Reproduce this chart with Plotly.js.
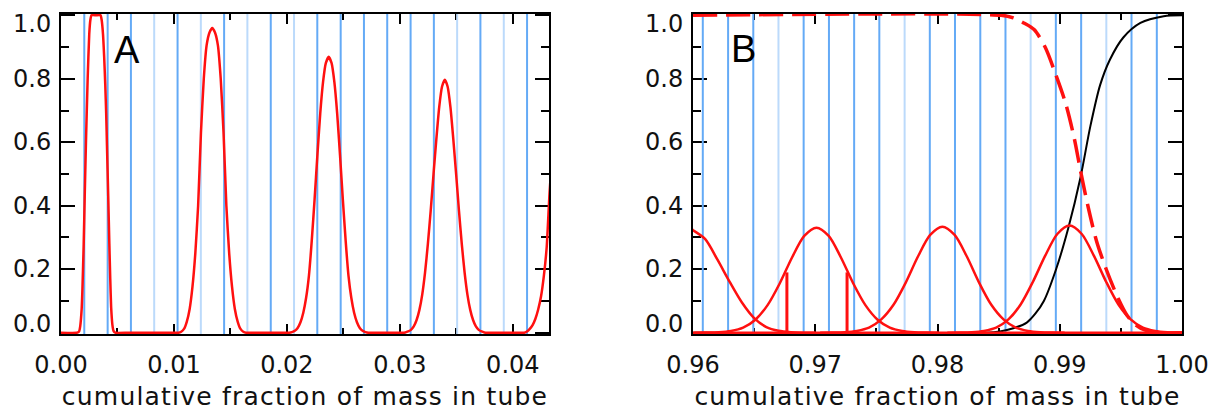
<!DOCTYPE html>
<html>
<head>
<meta charset="utf-8">
<script src="https://cdn.plot.ly/plotly-3.0.1.min.js"></script>
<style>
html,body{margin:0;padding:0;background:#fff;}
#chart{width:1216px;height:413px;}
.xtitle, .x2title { letter-spacing: 1.2px; }
</style>
</head>
<body>
<div id="chart"></div>
<script>
// ---------------- Data ----------------
// Panel A: shell boundaries (vertical blue lines)
var shellLinesA = [0.00206, 0.00413, 0.00619, 0.00825, 0.01032, 0.01238, 0.01444, 0.01650, 0.01857, 0.02063,
                   0.02269, 0.02476, 0.02682, 0.02888, 0.03095, 0.03301, 0.03507, 0.03713, 0.03920, 0.04126];
var shellLinesALight = [0.00825, 0.01238, 0.01650, 0.02063, 0.03507, 0.03920];

// Panel A: red curve (four full peaks and the start of a fifth)
var curveA_x = [0, 0.00140, 0.00160, 0.00170, 0.00183, 0.00190, 0.00201, 0.00210, 0.00221, 0.00236, 0.00250, 0.00260, 0.00270,
                0.00310, 0.00350, 0.00360, 0.00372, 0.00382, 0.00392, 0.00400, 0.00407, 0.00418, 0.00428, 0.00436, 0.00444,
                0.00455, 0.00465, 0.00480, 0.00600,
                0.00900, 0.01039, 0.01064, 0.01089, 0.01114, 0.01139, 0.01164, 0.01189, 0.01214, 0.01239, 0.01264, 0.01289,
                0.01314, 0.01339, 0.01364, 0.01389, 0.01414, 0.01439, 0.01464, 0.01489, 0.01514, 0.01539, 0.01564, 0.01589,
                0.01614, 0.01639, 0.01800,
                0.01900, 0.02020, 0.02045, 0.02070, 0.02095, 0.02120, 0.02145, 0.02170, 0.02195, 0.02220, 0.02245, 0.02270,
                0.02295, 0.02320, 0.02345, 0.02370, 0.02395, 0.02420, 0.02445, 0.02470, 0.02495, 0.02520, 0.02545, 0.02570,
                0.02595, 0.02620, 0.02645, 0.02670, 0.02695, 0.02720, 0.02850,
                0.02900, 0.03023, 0.03048, 0.03073, 0.03098, 0.03123, 0.03148, 0.03173, 0.03198, 0.03223, 0.03248, 0.03273,
                0.03298, 0.03323, 0.03348, 0.03373, 0.03398, 0.03423, 0.03448, 0.03473, 0.03498, 0.03523, 0.03548, 0.03573,
                0.03598, 0.03623, 0.03648, 0.03673, 0.03698, 0.03723, 0.03748, 0.03773, 0.03900,
                0.04000, 0.04100, 0.04125, 0.04150, 0.04175, 0.04200, 0.04225, 0.04250, 0.04275, 0.04300, 0.04325, 0.04350, 0.04375];
var curveA_y = [0, 0, 0.004, 0.02, 0.075, 0.14, 0.28, 0.43, 0.60, 0.80, 0.94, 0.985, 1.0,
                1.0, 1.0, 0.985, 0.94, 0.87, 0.78, 0.69, 0.59, 0.43, 0.28, 0.17, 0.08,
                0.025, 0.006, 0, 0,
                0, 0, 0.003, 0.012, 0.035, 0.075, 0.145, 0.25, 0.40, 0.63, 0.80, 0.905,
                0.945, 0.96, 0.945, 0.905, 0.80, 0.63, 0.40, 0.25, 0.145, 0.075, 0.035, 0.012,
                0.003, 0, 0,
                0, 0, 0.002, 0.006, 0.015, 0.033, 0.063, 0.11, 0.18, 0.29, 0.42, 0.56,
                0.69, 0.79, 0.85, 0.869, 0.85, 0.79, 0.69, 0.56, 0.42, 0.29, 0.18, 0.11,
                0.063, 0.033, 0.015, 0.006, 0.002, 0, 0,
                0, 0, 0.001, 0.004, 0.009, 0.020, 0.040, 0.072, 0.12, 0.19, 0.28, 0.385,
                0.50, 0.61, 0.71, 0.775, 0.797, 0.775, 0.71, 0.61, 0.50, 0.385, 0.28, 0.19,
                0.12, 0.072, 0.040, 0.020, 0.009, 0.004, 0.001, 0, 0,
                0, 0, 0.004, 0.012, 0.024, 0.044, 0.074, 0.115, 0.18, 0.27, 0.44, 0.57, 0.66];

// Panel B: shell boundaries
var shellLinesB = [0.96080, 0.96287, 0.96493, 0.96699, 0.96905, 0.97112, 0.97318, 0.97524, 0.97731, 0.97937,
                   0.98143, 0.98350, 0.98556, 0.98762, 0.98968, 0.99175, 0.99381, 0.99587, 0.99794];
var shellLinesBLight = [0.96699, 0.97731, 0.98762, 0.99381];

// Panel B: red bell curves
var bell0_x = [0.9590, 0.9597, 0.9600, 0.9610, 0.9620, 0.9630, 0.9640, 0.9650, 0.9660, 0.9670, 0.9680, 0.9690, 0.9700];
var bell0_y = [0.328, 0.331, 0.323, 0.295, 0.230, 0.160, 0.095, 0.046, 0.018, 0.006, 0.0015, 0, 0];

var bell1_x = [0.9601, 0.9611, 0.9621, 0.9631, 0.9641, 0.9651, 0.9661, 0.9671, 0.9681, 0.9691, 0.9701,
               0.9711, 0.9721, 0.9731, 0.9741, 0.9751, 0.9761, 0.9771, 0.9781, 0.9791, 0.9801];
var bell1_y = [0, 0.0004, 0.0016, 0.0056, 0.016, 0.041, 0.087, 0.156, 0.237, 0.305, 0.331,
               0.305, 0.237, 0.156, 0.087, 0.041, 0.016, 0.0056, 0.0016, 0.0004, 0];

var bell2_x = [0.9704, 0.9714, 0.9724, 0.9734, 0.9744, 0.9754, 0.9764, 0.9774, 0.9784, 0.9794, 0.9804,
               0.9814, 0.9824, 0.9834, 0.9844, 0.9854, 0.9864, 0.9874, 0.9884, 0.9894, 0.9904];
var bell2_y = [0, 0.0004, 0.0016, 0.0057, 0.016, 0.042, 0.088, 0.158, 0.240, 0.308, 0.334,
               0.308, 0.240, 0.158, 0.088, 0.042, 0.016, 0.0057, 0.0016, 0.0004, 0];

var bell3_x = [0.9808, 0.9818, 0.9828, 0.9838, 0.9848, 0.9858, 0.9868, 0.9878, 0.9888, 0.9898, 0.9908,
               0.9918, 0.9928, 0.9938, 0.9948, 0.9958, 0.9968, 0.9978, 0.9988, 0.9998, 1.0];
var bell3_y = [0, 0.0004, 0.0016, 0.0057, 0.016, 0.042, 0.089, 0.160, 0.242, 0.311, 0.3375,
               0.311, 0.242, 0.160, 0.089, 0.042, 0.016, 0.0057, 0.0016, 0.0004, 0];

// Panel B: vertical red markers (x position, top value)
var markerB_x = [0.96768, 0.97260];
var markerB_top = [0.19, 0.19];

// Panel B: black rising curve
var blackB_x = [0.9600, 0.9840, 0.9851, 0.9862, 0.9873, 0.9880, 0.9887, 0.9897, 0.9907, 0.9917, 0.9925,
                0.9933, 0.9941, 0.9952, 0.9966, 0.9985, 1.0000];
var blackB_y = [0, 0, 0.004, 0.014, 0.032, 0.060, 0.100, 0.200, 0.330, 0.490, 0.650,
                0.780, 0.860, 0.930, 0.976, 0.997, 1.0];

// Panel B: red dashed falling curve
var dashB_x = [0.9600, 0.9852, 0.9862, 0.9871, 0.9879, 0.9888, 0.9897, 0.9905, 0.9912, 0.9917, 0.9923,
               0.9930, 0.9938, 0.9948, 0.9955, 0.9962, 0.9970, 0.9980, 1.0000];
var dashB_y = [1.0, 1.0, 0.992, 0.975, 0.955, 0.900, 0.810, 0.720, 0.610, 0.510, 0.400,
               0.290, 0.200, 0.106, 0.055, 0.025, 0.008, 0, 0];

var yTicks = [0, 0.2, 0.4, 0.6, 0.8, 1.0];
var yTickLabels = ['0.0', '0.2', '0.4', '0.6', '0.8', '1.0'];
var xTicksA = [0, 0.01, 0.02, 0.03, 0.04];
var xTicksB = [0.96, 0.97, 0.98, 0.99, 1.00];
var xTitle = 'cumulative fraction of mass in tube';

// ---------------- Build traces ----------------
var BLUE = '#64aaf6', BLUE_LIGHT = '#bcdafb', RED = '#ff1010';

function vlines(xs, y0, y1) {
  var x = [], y = [];
  xs.forEach(function (v) { x.push(v, v, null); y.push(y0, y1, null); });
  return {x: x, y: y};
}
function vlinesTop(xs, tops) {
  var x = [], y = [];
  xs.forEach(function (v, i) { x.push(v, v, null); y.push(0, tops[i], null); });
  return {x: x, y: y};
}
function notIn(list, excl) {
  return list.filter(function (v) { return excl.indexOf(v) < 0; });
}

var traces = [];
function addV(xs, color, xa, ya) {
  var d = vlines(xs, -0.01, 1.01);
  traces.push({x: d.x, y: d.y, xaxis: xa, yaxis: ya, mode: 'lines', hoverinfo: 'skip',
               line: {color: color, width: 2}, showlegend: false});
}
addV(notIn(shellLinesA, shellLinesALight), BLUE, 'x', 'y');
addV(shellLinesALight, BLUE_LIGHT, 'x', 'y');
addV(notIn(shellLinesB, shellLinesBLight), BLUE, 'x2', 'y2');
addV(shellLinesBLight, BLUE_LIGHT, 'x2', 'y2');

traces.push({x: curveA_x, y: curveA_y, xaxis: 'x', yaxis: 'y', mode: 'lines',
             line: {color: RED, width: 2.5, shape: 'spline', smoothing: 0.5}, showlegend: false});

// black curve drawn below the red ones
traces.push({x: blackB_x, y: blackB_y, xaxis: 'x2', yaxis: 'y2', mode: 'lines',
             line: {color: '#000', width: 2, shape: 'spline', smoothing: 0.8}, showlegend: false});
traces.push({x: [0.96, 1.0], y: [0, 0], xaxis: 'x2', yaxis: 'y2', mode: 'lines',
             line: {color: RED, width: 2.5}, showlegend: false});
[[bell0_x, bell0_y], [bell1_x, bell1_y], [bell2_x, bell2_y], [bell3_x, bell3_y]].forEach(function (b) {
  traces.push({x: b[0], y: b[1], xaxis: 'x2', yaxis: 'y2', mode: 'lines',
               line: {color: RED, width: 2.5, shape: 'spline', smoothing: 0.8}, showlegend: false});
});
var mk = vlinesTop(markerB_x, markerB_top);
traces.push({x: mk.x, y: mk.y, xaxis: 'x2', yaxis: 'y2', mode: 'lines',
             line: {color: RED, width: 3}, showlegend: false});
traces.push({x: dashB_x, y: dashB_y, xaxis: 'x2', yaxis: 'y2', mode: 'lines',
             line: {color: RED, width: 3.5, dash: '24px,9px', shape: 'spline', smoothing: 0.8}, showlegend: false});

// ---------------- Layout ----------------
var tickFont = {family: 'DejaVu Sans', size: 24, color: '#111'};
var titleFont = {family: 'DejaVu Sans', size: 25, color: '#111'};
function xAxis(domain, range, ticks, anchor) {
  return {
    domain: domain, range: range, anchor: anchor,
    tickvals: ticks, ticktext: ticks.map(function (v) { return v.toFixed(2); }),
    ticks: 'inside', ticklen: 10, tickwidth: 2, tickcolor: '#000',
    minor: {dtick: 0.005, ticks: 'inside', ticklen: 6, tickwidth: 2, tickcolor: '#000'},
    showline: true, linecolor: '#000', linewidth: 2, mirror: 'ticks',
    showgrid: false, zeroline: false, layer: 'below traces',
    tickfont: tickFont, ticklabelstandoff: 8,
    title: {text: xTitle, font: titleFont, standoff: 10}
  };
}
function yAxis(anchor) {
  return {
    anchor: anchor, range: [-0.004, 1.004], autorange: false,
    tickvals: yTicks, showticklabels: false,
    ticks: 'inside', ticklen: 14, tickwidth: 2, tickcolor: '#000',
    minor: {dtick: 0.1, ticks: 'inside', ticklen: 8, tickwidth: 2, tickcolor: '#000'},
    showline: true, linecolor: '#000', linewidth: 2, mirror: 'ticks',
    showgrid: false, zeroline: false, layer: 'below traces'
  };
}

var annotations = [
  {text: 'A', xref: 'x', yref: 'y', x: 0.00584, y: 0.89, showarrow: false,
   font: {family: 'Liberation Sans', size: 38, color: '#000'}},
  {text: 'B', xref: 'x2', yref: 'y2', x: 0.96417, y: 0.894, showarrow: false,
   font: {family: 'Liberation Sans', size: 38, color: '#000'}}
];
// y tick labels (end labels nudged inward as in the reference)
[['x domain', 'y'], ['x2 domain', 'y2']].forEach(function (ax) {
  yTicks.forEach(function (v, i) {
    var shift = (i === 0) ? 9 : (i === yTicks.length - 1 ? -9 : 0);
    annotations.push({text: yTickLabels[i], xref: ax[0], yref: ax[1], x: 0, y: v,
      xanchor: 'right', yanchor: 'middle', xshift: -8, yshift: shift, showarrow: false,
      font: tickFont});
  });
});

var layout = {
  width: 1216, height: 413,
  margin: {l: 61, r: 34, t: 14, b: 79},
  paper_bgcolor: '#fff', plot_bgcolor: '#fff',
  showlegend: false,
  xaxis: xAxis([0, 0.4353], [0, 0.0432], xTicksA, 'y'),
  yaxis: yAxis('x'),
  xaxis2: xAxis([0.5638, 1], [0.96, 1.0], xTicksB, 'y2'),
  yaxis2: yAxis('x2'),
  annotations: annotations
};

Plotly.newPlot('chart', traces, layout, {staticPlot: true, displayModeBar: false});
</script>
</body>
</html>
